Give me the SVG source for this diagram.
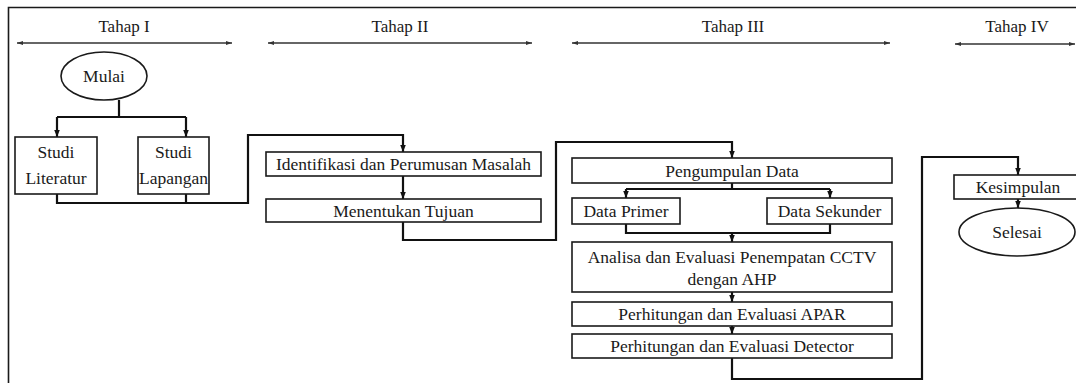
<svg xmlns="http://www.w3.org/2000/svg" width="1076" height="383" viewBox="0 0 1076 383">
<style>
text{font-family:"Liberation Serif","Times New Roman",serif;font-size:17.5px;fill:#1a1a1a;text-anchor:middle}
.hdr{font-size:17px}
.box{fill:#fff;stroke:#1a1a1a;stroke-width:1.6}
.frame{fill:none;stroke:#1a1a1a;stroke-width:1.6}
.con{fill:none;stroke:#111;stroke-width:2.2;stroke-linejoin:miter}
.tahap{fill:none;stroke:#333;stroke-width:1.5}
</style>
<defs>
<marker id="ah" viewBox="0 0 10 10" refX="10" refY="5" markerWidth="7" markerHeight="7" markerUnits="userSpaceOnUse" orient="auto"><path d="M0,1 L10,5 L0,9 z" fill="#111"/></marker>
<marker id="th" viewBox="0 0 10 10" refX="10" refY="5" markerWidth="6" markerHeight="6" markerUnits="userSpaceOnUse" orient="auto-start-reverse"><path d="M0,1.5 L10,5 L0,8.5 z" fill="#333"/></marker>
</defs>
<rect width="1076" height="383" fill="#fff"/>
<path class="frame" d="M8.5,383 V7.5 H1076"/>
<g id="headers">
<text class="hdr" x="124" y="32">Tahap I</text>
<path class="tahap" d="M17,43 H232" marker-start="url(#th)" marker-end="url(#th)"/>
<text class="hdr" x="400" y="32">Tahap II</text>
<path class="tahap" d="M268,43 H532" marker-start="url(#th)" marker-end="url(#th)"/>
<text class="hdr" x="733" y="32">Tahap III</text>
<path class="tahap" d="M572,43 H890" marker-start="url(#th)" marker-end="url(#th)"/>
<text class="hdr" x="1017" y="32">Tahap IV</text>
<path class="tahap" d="M955,44 H1075" marker-start="url(#th)" marker-end="url(#th)"/>
</g>
<g id="connectors">
<path class="con" d="M119,100 V117"/>
<path class="con" d="M57,117 H186"/>
<path class="con" d="M57,117 V137" marker-end="url(#ah)"/>
<path class="con" d="M186,117 V137" marker-end="url(#ah)"/>
<path class="con" d="M57,194 V203 H248 V135 H403 V152" marker-end="url(#ah)"/>
<path class="con" d="M186,194 V203"/>
<path class="con" d="M403,176 V199" marker-end="url(#ah)"/>
<path class="con" d="M403,222 V240 H556 V142 H732 V158" marker-end="url(#ah)"/>
<path class="con" d="M732,183 V189"/>
<path class="con" d="M626,189 H830"/>
<path class="con" d="M626,189 V198" marker-end="url(#ah)"/>
<path class="con" d="M830,189 V198" marker-end="url(#ah)"/>
<path class="con" d="M626,224 V233 H830 V224"/>
<path class="con" d="M732,233 V242" marker-end="url(#ah)"/>
<path class="con" d="M732,292 V302" marker-end="url(#ah)"/>
<path class="con" d="M732,326 V334" marker-end="url(#ah)"/>
<path class="con" d="M732,358 V379 H922 V157 H1018 V175" marker-end="url(#ah)"/>
<path class="con" d="M1018,199 V208" marker-end="url(#ah)"/>
</g>
<g id="mulai"><ellipse class="box" cx="104" cy="76" rx="43" ry="24"/><text x="104" y="82">Mulai</text></g>
<g id="studi-literatur"><rect class="box" x="15" y="137" width="82" height="57"/><text x="56" y="158">Studi</text><text x="56" y="184">Literatur</text></g>
<g id="studi-lapangan"><rect class="box" x="138" y="137" width="71" height="57"/><text x="173.5" y="158">Studi</text><text x="173.5" y="184">Lapangan</text></g>
<g id="identifikasi"><rect class="box" x="266" y="152" width="275" height="24"/><text x="403.5" y="170">Identifikasi dan Perumusan Masalah</text></g>
<g id="tujuan"><rect class="box" x="266" y="199" width="275" height="23"/><text x="403.5" y="217">Menentukan Tujuan</text></g>
<g id="pengumpulan"><rect class="box" x="572" y="158" width="320" height="25"/><text x="732" y="177">Pengumpulan Data</text></g>
<g id="data-primer"><rect class="box" x="572" y="198" width="108" height="26"/><text x="626" y="217">Data Primer</text></g>
<g id="data-sekunder"><rect class="box" x="767" y="198" width="125" height="26"/><text x="829.5" y="217">Data Sekunder</text></g>
<g id="analisa"><rect class="box" x="572" y="242" width="320" height="50"/><text x="732" y="263">Analisa dan Evaluasi Penempatan CCTV</text><text x="732" y="285">dengan AHP</text></g>
<g id="apar"><rect class="box" x="572" y="302" width="320" height="24"/><text x="732" y="320">Perhitungan dan Evaluasi APAR</text></g>
<g id="detector"><rect class="box" x="572" y="334" width="320" height="24"/><text x="732" y="352">Perhitungan dan Evaluasi Detector</text></g>
<g id="kesimpulan"><rect class="box" x="954" y="175" width="130" height="24"/><text x="1018" y="193">Kesimpulan</text></g>
<g id="selesai"><ellipse class="box" cx="1017" cy="232" rx="58" ry="24"/><text x="1017" y="238">Selesai</text></g>
</svg>
